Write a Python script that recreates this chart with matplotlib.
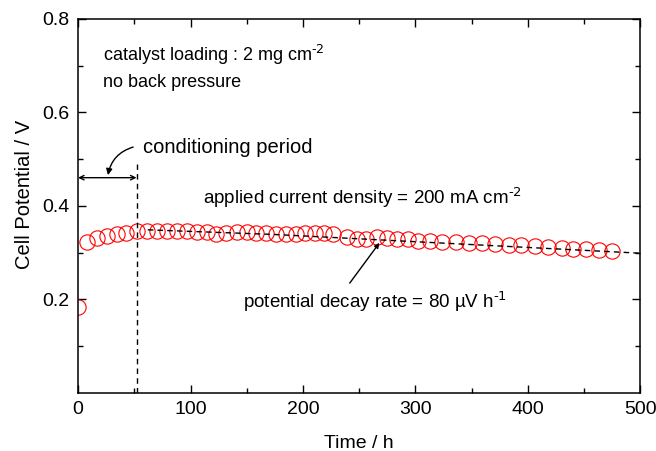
import numpy as np
import matplotlib
matplotlib.use('Agg')
import matplotlib.pyplot as plt

plt.rcParams['font.family'] = ['Liberation Sans', 'DejaVu Sans']
plt.rcParams['mathtext.default'] = 'regular'

# data
time_h = [0, 8, 17, 26, 35, 43, 52, 61, 70, 79, 88, 97, 106, 115, 123, 132,
          141, 150, 158, 167, 176, 185, 194, 202, 211, 219, 227, 239, 248, 256,
          266, 275, 284, 293, 302, 313, 324, 336, 348, 359, 371, 383, 394, 406,
          418, 430, 440, 452, 463, 475]
potential_v = [0.185, 0.324, 0.331, 0.336, 0.340, 0.343, 0.347, 0.346, 0.347,
               0.347, 0.346, 0.346, 0.344, 0.344, 0.339, 0.342, 0.344, 0.344,
               0.343, 0.343, 0.340, 0.341, 0.341, 0.342, 0.342, 0.342, 0.341,
               0.333, 0.330, 0.330, 0.333, 0.331, 0.330, 0.330, 0.326, 0.325,
               0.323, 0.322, 0.321, 0.320, 0.319, 0.317, 0.316, 0.314, 0.312,
               0.311, 0.309, 0.307, 0.305, 0.303]

# decay trend line
trend_t = [62, 175, 500]
trend_v = [0.349, 0.339, 0.299]

conditioning_end = 52

fig = plt.figure(figsize=(6.56, 4.51), dpi=100)
ax = fig.add_axes([0.119, 0.1286, 0.857, 0.8294])

ax.plot(time_h, potential_v, 'o', ms=11, mfc='none', mec='red', mew=0.8)
ax.plot(trend_t, trend_v, '--', color='black', lw=1.0, dashes=(4, 3))

# conditioning period marker
ax.plot([conditioning_end, conditioning_end], [0, 0.49], '--', color='black',
        lw=1.0, dashes=(4, 3))
ax.annotate('', xy=(0, 0.4605), xytext=(conditioning_end, 0.4605),
            arrowprops=dict(arrowstyle='<->', lw=1.0, color='black',
                            shrinkA=0, shrinkB=0, mutation_scale=8))
ax.annotate('', xy=(26.6, 0.466), xytext=(49, 0.526),
            arrowprops=dict(arrowstyle='-|>', lw=1.0, color='black',
                            shrinkA=0, shrinkB=0, mutation_scale=9,
                            connectionstyle='arc3,rad=0.3'))
ax.text(58, 0.526, 'conditioning period', fontsize=14.5, va='center')

sup2 = '$^{\\text{-2}}$'
ax.text(22, 0.723, 'catalyst loading : 2 mg cm' + sup2, fontsize=13, va='center')
ax.text(22, 0.665, 'no back pressure', fontsize=13, va='center')
ax.text(111, 0.417, 'applied current density = 200 mA cm' + sup2, fontsize=13.5,
        va='center')
ax.text(147, 0.195, 'potential decay rate = 80 \u00b5V h$^{\\text{-1}}$',
        fontsize=13.5, va='center')
ax.annotate('', xy=(268, 0.321), xytext=(241.6, 0.235),
            arrowprops=dict(arrowstyle='-|>', lw=1.0, color='black',
                            shrinkA=0, shrinkB=0, mutation_scale=7))

ax.set_xlim(0, 500)
ax.set_ylim(0, 0.8)
ax.set_xticks([0, 100, 200, 300, 400, 500])
ax.set_xticks([50, 150, 250, 350, 450], minor=True)
ax.set_yticks([0.2, 0.4, 0.6, 0.8])
ax.set_yticks([0.1, 0.3, 0.5, 0.7], minor=True)
ax.set_yticklabels(['0.2', '0.4', '0.6', '0.8'])
ax.tick_params(which='both', direction='in', top=True, right=True,
               labelsize=14, width=1.0)
ax.tick_params(which='major', length=6, pad=6)
ax.tick_params(which='minor', length=3.5)
for sp in ax.spines.values():
    sp.set_linewidth(1.1)

ax.set_xlabel('Time / h', fontsize=14, labelpad=12)
ax.set_ylabel('Cell Potential / V', fontsize=14.5)
ax.yaxis.set_label_coords(-0.079, 0.53)

fig.savefig('out.png', dpi=100)
